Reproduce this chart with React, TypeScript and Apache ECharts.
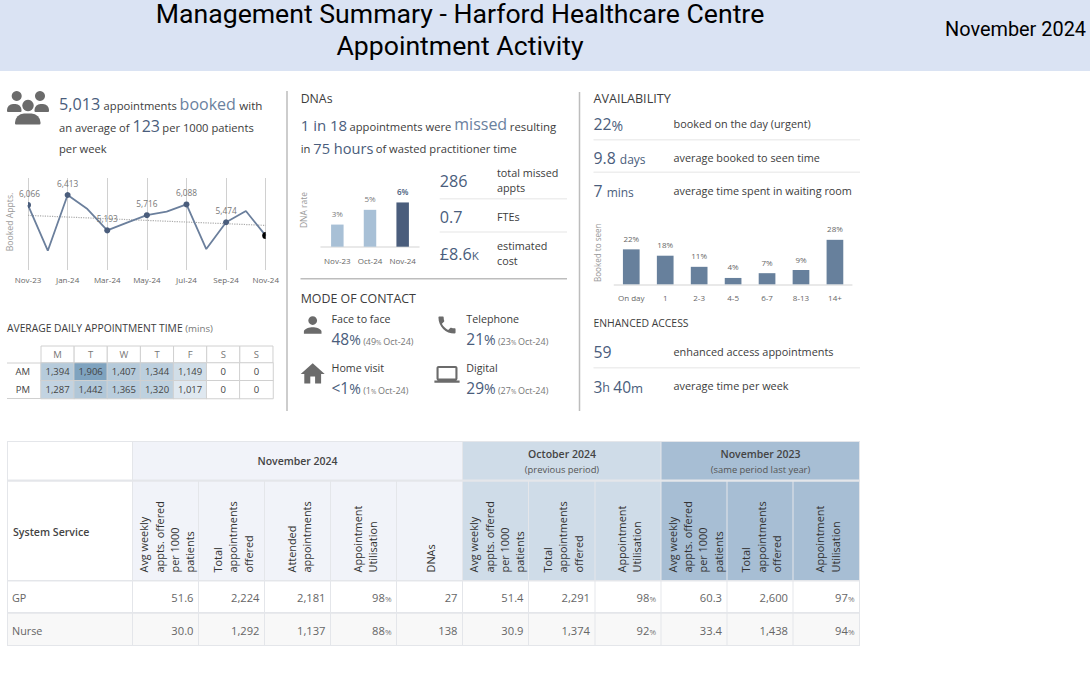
import React, { useEffect, useRef } from "react";
import * as echarts from "echarts";

const months = ["Nov-23","Dec-23","Jan-24","Feb-24","Mar-24","Apr-24","May-24","Jun-24","Jul-24","Aug-24","Sep-24","Oct-24","Nov-24"];
const bookedAppts = [6066,4491,6413,5929,5193,5460,5716,5843,6088,4549,5474,5860,5013];
const bookedTrend = [5710,null,null,null,null,null,null,null,null,null,null,null,5365];
const dnaMonths = ["Nov-23","Oct-24","Nov-24"];
const dnaRates = [3,5,6];
const seenBuckets = ["On day","1","2-3","4-5","6-7","8-13","14+"];
const seenShares = [22,18,11,4,7,9,28];
const heatDays = ["M","T","W","T ","F","S","S "];
const heatSessions = ["AM","PM"];
const amMinutes = [1394,1906,1407,1344,1149,0,0];
const pmMinutes = [1287,1442,1365,1320,1017,0,0];
const tableServices = ["GP","Nurse"];
const tableHeaders = [
  ["Avg weekly","appts. offered","per 1000","patients"],
  ["Total","appointments","offered"],
  ["Attended","appointments"],
  ["Appointment","Utilisation"],
  ["DNAs"],
  ["Avg weekly","appts. offered","per 1000","patients"],
  ["Total","appointments","offered"],
  ["Appointment","Utilisation"],
  ["Avg weekly","appts. offered","per 1000","patients"],
  ["Total","appointments","offered"],
  ["Appointment","Utilisation"],
];
const gpRow = ["51.6","2,224","2,181","98%","27","51.4","2,291","98%","60.3","2,600","97%"];
const nurseRow = ["30.0","1,292","1,137","88%","138","30.9","1,374","92%","33.4","1,438","94%"];

const FONT = '"Open Sans", sans-serif';
const ACC = "#4a5d7c";
const ACC2 = "#6a819e";
const TXT = "#3c3c3c";
const GREY = "#777777";

const ICONS: Record<string, string> = {
  icoPerson: "M12 12c2.21 0 4-1.79 4-4s-1.79-4-4-4-4 1.79-4 4 1.79 4 4 4zm0 2c-2.67 0-8 1.34-8 4v2h16v-2c0-2.66-5.33-4-8-4z",
  icoPhone: "M6.62 10.79c1.44 2.83 3.76 5.14 6.59 6.59l2.2-2.2c.27-.27.67-.36 1.02-.24 1.12.37 2.33.57 3.57.57.55 0 1 .45 1 1V20c0 .55-.45 1-1 1-9.39 0-17-7.61-17-17 0-.55.45-1 1-1h3.5c.55 0 1 .45 1 1 0 1.25.2 2.45.57 3.57.11.35.03.74-.25 1.02l-2.2 2.2z",
  icoHouse: "M10 20v-6h4v6h5v-8h3L12 3 2 12h3v8z",
  icoLaptop: "M20 18c1.1 0 1.99-.9 1.99-2L22 6c0-1.1-.9-2-2-2H4c-1.1 0-2 .9-2 2v10c0 1.1.9 2 2 2H0v2h24v-2h-4zM4 6h16v10H4V6z",
};
Object.keys(ICONS).forEach((k) => echarts.graphic.registerShape(k, echarts.graphic.extendPath(ICONS[k], {}) as any));

const measureCtx = document.createElement("canvas").getContext("2d")!;
function textWidth(t: string, size: number, weight: number | string = 400, family = FONT) {
  measureCtx.font = `${weight} ${size}px ${family}`;
  return measureCtx.measureText(t).width;
}

type Opt = { weight?: number; align?: string; family?: string };
function T(text: string, x: number, y: number, size: number, fill = TXT, o: Opt = {}) {
  return {
    type: "text", silent: true,
    style: {
      text, x, y: y - size * 0.35, fontSize: size, fontFamily: o.family || FONT, fontWeight: o.weight || 400,
      fill, align: o.align || "left", verticalAlign: "middle",
    },
  };
}
type Run = [string, number, string?];
function runs(x: number, y: number, parts: Run[]) {
  let cx = x;
  return parts.map(([t, s, c]) => {
    const el = T(t, cx, y, s, c || TXT);
    cx += textWidth(t, s);
    return el;
  });
}
function rotT(text: string, x: number, y: number, size: number, fill = TXT, align = "left") {
  return {
    type: "text", silent: true, x, y, rotation: Math.PI / 2,
    style: { text, x: 0, y: 0, fontSize: size, fontFamily: FONT, fill, align, verticalAlign: "middle" },
  };
}
const rect = (x: number, y: number, w: number, h: number, fill: string, r?: any) => ({
  type: "rect", silent: true, shape: { x, y, width: w, height: h, r: r || 0 }, style: { fill },
});
const hr = (x1: number, x2: number, y: number, color = "#eeeeee", w = 1.5) => ({
  type: "line", silent: true, shape: { x1, y1: y, x2, y2: y }, style: { stroke: color, lineWidth: w },
});
const vr = (x: number, y1: number, y2: number) => ({
  type: "line", silent: true, shape: { x1: x, y1, x2: x, y2 }, style: { stroke: "#bdbdbd", lineWidth: 1.5 },
});
const icon = (name: string, cx: number, cy: number, scale: number, dy = 12) => ({
  type: name, silent: true, x: cx - 12 * scale, y: cy - dy * scale, scaleX: scale, scaleY: scale, style: { fill: "#6b6b6b" },
});

function buildGraphics() {
  const g: any[] = [];
  g.push(rect(0, 0, 1090, 71, "#dae3f3"));
  g.push(T("Management Summary - Harford Healthcare Centre", 460, 23.3, 26.65, "#000", { family: "Roboto", align: "center" }));
  g.push(T("Appointment Activity", 460, 55.3, 26.65, "#000", { family: "Roboto", align: "center" }));
  g.push(T("November 2024", 1086, 36, 19.9, "#000", { family: "Roboto", align: "right" }));

  g.push(vr(287, 91, 411), vr(579.5, 92, 411));

  // people icon
  const pc = "#6b6b6b";
  g.push({ type: "circle", silent: true, shape: { cx: 16.7, cy: 96, r: 5 }, style: { fill: pc } });
  g.push({ type: "circle", silent: true, shape: { cx: 40, cy: 96, r: 5 }, style: { fill: pc } });
  g.push({ type: "circle", silent: true, shape: { cx: 28, cy: 105.5, r: 5.7 }, style: { fill: pc } });
  g.push(rect(7, 104, 14.5, 8, pc, [6, 6, 1, 1]), rect(34.5, 104, 14.5, 8, pc, [6, 6, 1, 1]));
  g.push(rect(15, 113.5, 25.5, 11, pc, [9, 9, 1, 1]));

  // left intro
  g.push(...runs(59, 109.3, [["5,013", 16.2, ACC], [" ", 13], ["appointments ", 11.2], ["booked", 16, ACC2], [" ", 13], ["with", 11.6]]));
  g.push(...runs(59, 131.7, [["an average of ", 11.2], ["123", 16, ACC], [" ", 9], ["per 1000 patients", 11.2]]));
  g.push(T("per week", 59, 152.7, 11.2));

  // heat table title + header cells
  g.push(...runs(7, 331.7, [["AVERAGE DAILY APPOINTMENT TIME ", 10.3], ["(mins)", 9.7, GREY]]));
  for (let i = 0; i < 7; i++) {
    g.push({ type: "rect", silent: true, shape: { x: 41 + i * 33.14, y: 346, width: 33.14, height: 17 }, style: { fill: "#fff", stroke: "#d0d0d0", lineWidth: 1 } });
  }
  g.push(hr(7, 41, 398.5, "#d0d0d0", 1), hr(7, 41, 363, "#d0d0d0", 1));

  // DNAs
  g.push(T("DNAs", 300.7, 102.7, 12.3));
  g.push(...runs(300.7, 130, [["1 in 18", 15, ACC], [" ", 9], ["appointments were ", 11.2], ["missed", 16, ACC2], [" ", 10], ["resulting", 11.4]]));
  g.push(...runs(300.7, 152.7, [["in ", 11.2], ["75 hours", 14.6, ACC], [" ", 9], ["of wasted practitioner time", 11.2]]));
  g.push(T("286", 439.7, 186.7, 16.2, ACC));
  g.push(T("total missed", 497, 176, 10.8), T("appts", 497, 191, 10.8));
  g.push(hr(439.7, 567, 198.7));
  g.push(T("0.7", 439.7, 222.7, 16.2, ACC));
  g.push(T("FTEs", 497, 220, 10.8));
  g.push(hr(439.7, 567, 232));
  g.push(...runs(439.7, 260, [["£8.6", 16.2, ACC], ["K", 11.5, ACC]]));
  g.push(T("estimated", 497, 249.3, 10.8), T("cost", 497, 264.3, 10.8));
  g.push(hr(300.5, 567, 278.7, "#bdbdbd", 1.5));

  // Mode of contact
  g.push(T("MODE OF CONTACT", 300.7, 302.7, 12.4));
  g.push(icon("icoPerson", 312.7, 325, 1.1));
  g.push(icon("icoPhone", 447, 325, 0.95));
  g.push(icon("icoHouse", 312.7, 374, 1.2));
  g.push(icon("icoLaptop", 447, 374.3, 1.05));
  const mode = (x: number, y: number, name: string, pct: string, prev: string) => {
    g.push(T(name, x, y, 10.7));
    g.push(...runs(x, y + 21.6, [[pct, 15.5, ACC], ["%", 14, ACC], [" ", 9], ["(" + prev, 9, GREY], ["% ", 6.5, GREY], ["Oct-24)", 9, GREY]]));
  };
  mode(331.5, 322.7, "Face to face", "48", "49");
  mode(466.3, 322.7, "Telephone", "21", "23");
  mode(331.5, 371.7, "Home visit", "<1", "1");
  mode(466.3, 371.7, "Digital", "29", "27");

  // Availability
  g.push(T("AVAILABILITY", 593.5, 103.3, 12.6));
  g.push(...runs(593.5, 130, [["22", 15.8, ACC], ["%", 14, ACC]]));
  g.push(T("booked on the day (urgent)", 673.5, 127.7, 10.85));
  g.push(hr(593.5, 860, 139.7));
  g.push(...runs(593.5, 163.3, [["9.8 ", 15.8, ACC], ["days", 12, ACC]]));
  g.push(T("average booked to seen time", 673.5, 161, 10.85));
  g.push(hr(593.5, 860, 172.3));
  g.push(...runs(593.5, 196.7, [["7 ", 15.8, ACC], ["mins", 12, ACC]]));
  g.push(T("average time spent in waiting room", 673.5, 194.3, 10.85));

  g.push(T("ENHANCED ACCESS", 593.5, 326.7, 10.4));
  g.push(T("59", 593.5, 357.7, 15.8, ACC));
  g.push(T("enhanced access appointments", 673.5, 355.7, 10.9));
  g.push(hr(593.5, 860, 367.7));
  g.push(...runs(593.5, 392.3, [["3", 15.5, ACC], ["h ", 12.5, ACC], ["40", 15.5, ACC], ["m", 13, ACC]]));
  g.push(T("average time per week", 673.5, 389, 10.9));

  // Rotated axis captions
  g.push(rotT("Booked Appts.", 10, 222, 8.7, "#999", "center"));
  g.push(rotT("DNA rate", 303.3, 210, 8.5, "#999", "center"));
  g.push(rotT("Booked to seen", 597, 252.7, 8.1, "#999", "center"));

  // Table
  const edges = [7.5, 132.5, 198.5, 264.5, 330.5, 396.5, 462.5, 528.5, 595, 661, 727, 793, 859.5];
  const cNow = "#f1f3f9", cPrev = "#cfdce8", cYear = "#a7bed4";
  const colFill = (i: number) => (i < 5 ? cNow : i < 8 ? cPrev : cYear);
  g.push(rect(7, 441, 853, 205, "#e4e6ea"));
  const y0 = 442, y1 = 479.5, y2 = 481.8, y3 = 580, y4 = 581.5, y5 = 612, y6 = 613.7, y7 = 645;
  g.push(rect(8, y0, 124, y1 - y0, "#fff"), rect(8, y2, 124, y3 - y2, "#fff"));
  g.push(rect(133, y0, 329, y1 - y0, cNow), rect(463, y0, 197.5, y1 - y0, cPrev), rect(661.5, y0, 197.5, y1 - y0, cYear));
  g.push(rect(8, y4, 124, y5 - y4, "#fff"), rect(8, y6, 124, y7 - y6, "#f8f8f8"));
  g.push(T("November 2024", 297.5, 465, 10.5, "#444", { weight: 600, align: "center" }));
  g.push(T("October 2024", 562, 457.6, 10.5, "#444", { weight: 600, align: "center" }));
  g.push(T("(previous period)", 562, 472.3, 9.4, "#555", { align: "center" }));
  g.push(T("November 2023", 760.5, 457.6, 10.5, "#444", { weight: 600, align: "center" }));
  g.push(T("(same period last year)", 760.5, 472.3, 9.4, "#555", { align: "center" }));
  g.push(T("System Service", 13, 535.5, 10.6, "#444", { weight: 600 }));
  tableServices.forEach((s, r) => g.push(T(s, 12, r === 0 ? 601.4 : 634, 10.8, "#666")));
  tableHeaders.forEach((lines, i) => {
    const L = edges[i + 1] + 0.5, R = edges[i + 2] - 0.5;
    g.push(rect(L, y2, R - L, y3 - y2, colFill(i)));
    g.push(rect(L, y4, R - L, y5 - y4, "#fff"), rect(L, y6, R - L, y7 - y6, "#f8f8f8"));
    const cx = (L + R) / 2 + 1.2;
    const step = 15.3;
    lines.forEach((ln, k) => {
      g.push(rotT(ln, cx + (k - (lines.length - 1) / 2) * step, 572.5, 10.9, "#333"));
    });
    [gpRow, nurseRow].forEach((row, r) => {
      const v = row[i];
      const base = r === 0 ? 601.6 : 634;
      if (v.endsWith("%")) {
        g.push(T("%", R - 4.5, base, 8, "#777", { align: "right" }));
        g.push(T(v.slice(0, -1), R - 4.5 - textWidth("%", 8), base, 11.2, "#666", { align: "right" }));
      } else {
        g.push(T(v, R - 4.5, base, 11.2, "#666", { align: "right" }));
      }
    });
  });
  return g;
}

const axisLabel = { fontSize: 8, fontFamily: FONT, color: "#666" };
const hiddenY = (gridIndex: number, min: number, max: number) => ({
  type: "value", gridIndex, min, max,
  axisLine: { show: false }, axisTick: { show: false }, axisLabel: { show: false }, splitLine: { show: false },
});
const fmt = (n: number) => n.toLocaleString("en-GB");

export default function App() {
  const ref = useRef<HTMLDivElement>(null);
  useEffect(() => {
    const chart = echarts.init(ref.current!, undefined, { renderer: "svg" });
    const heatData: any[] = [];
    [amMinutes, pmMinutes].forEach((row, r) => row.forEach((v, c) => heatData.push([c, r, v])));
    chart.setOption({
      animation: false,
      backgroundColor: "#ffffff",
      graphic: { elements: buildGraphics() },
      grid: [
        { left: 28, top: 178, width: 237.7, height: 92 },
        { left: 321, top: 187.7, width: 98, height: 59 },
        { left: 614.3, top: 228.7, width: 237.6, height: 55.6 },
        { left: 41, top: 363, width: 232, height: 35.5 },
      ],
      xAxis: [
        {
          type: "category", gridIndex: 0, data: months, boundaryGap: false,
          axisLine: { show: false }, axisTick: { show: false },
          axisLabel: { ...axisLabel, interval: 1, margin: 5, hideOverlap: false },
          splitLine: { show: true, interval: 1, lineStyle: { color: "#d0d0d0", width: 1 } },
        },
        {
          type: "category", gridIndex: 1, data: dnaMonths,
          axisLine: { lineStyle: { color: "#e2e2e2", width: 1.5 } }, axisTick: { show: false },
          axisLabel: { ...axisLabel, interval: 0, margin: 10 },
        },
        {
          type: "category", gridIndex: 2, data: seenBuckets,
          axisLine: { lineStyle: { color: "#e2e2e2", width: 1.5 } }, axisTick: { show: false },
          axisLabel: { ...axisLabel, interval: 0, margin: 9 },
        },
        {
          type: "category", gridIndex: 3, data: heatDays, position: "top",
          axisLine: { show: false }, axisTick: { show: false },
          axisLabel: { fontSize: 9.5, fontFamily: FONT, color: "#777", margin: 4, interval: 0, formatter: (v: string) => v.trim() },
        },
      ],
      yAxis: [
        hiddenY(0, 3826, 7000),
        hiddenY(1, 0, 8),
        hiddenY(2, 0, 35),
        {
          type: "category", gridIndex: 3, data: heatSessions, inverse: true,
          axisLine: { show: false }, axisTick: { show: false },
          axisLabel: { fontSize: 9.5, fontFamily: FONT, color: "#444", margin: 11 },
        },
      ],
      visualMap: {
        show: false, type: "continuous", seriesIndex: 4, dimension: 2, min: 0, max: 1906,
        inRange: { color: ["#ffffff", "#e6edf3", "#7fa3bf"] },
      },
      series: [
        {
          type: "line", xAxisIndex: 0, yAxisIndex: 0, data: bookedTrend, connectNulls: true, symbol: "none",
          lineStyle: { color: "#aaaaaa", width: 1.2, type: "dotted" }, z: 2,
        },
        {
          type: "line", xAxisIndex: 0, yAxisIndex: 0, showAllSymbol: true, symbolSize: 6,
          lineStyle: { color: "#6b7f9c", width: 1.8 }, itemStyle: { color: ACC }, z: 3,
          label: { show: true, position: "top", distance: 5, fontSize: 8.3, fontFamily: FONT, color: "#777", formatter: (p: any) => fmt(p.value) },
          data: bookedAppts.map((v, i) => {
            const even = i % 2 === 0;
            const last = i === bookedAppts.length - 1;
            const first = i === 0;
            return {
              value: v,
              symbol: !even ? "none" : first ? "path://M0 0A5 5 0 0 1 0 10Z" : last ? "path://M5 0A5 5 0 0 0 5 10Z" : "circle",
              symbolSize: first ? [3, 6] : last ? [3.5, 7] : 6,
              symbolOffset: first ? [1.5, 0] : last ? [-1.75, 0] : [0, 0],
              itemStyle: { color: last ? "#000" : ACC },
              label: { show: even && !last },
            };
          }),
        },
        {
          type: "bar", xAxisIndex: 1, yAxisIndex: 1, barWidth: 12.5,
          label: { show: true, position: "top", distance: 7, fontSize: 8, fontFamily: FONT, color: "#777", formatter: (p: any) => p.value + "%" },
          data: dnaRates.map((v, i) => ({
            value: v,
            itemStyle: { color: i === dnaRates.length - 1 ? ACC : "#a8c0d6" },
            label: i === dnaRates.length - 1 ? { color: ACC, fontWeight: 600 } : undefined,
          })),
        },
        {
          type: "bar", xAxisIndex: 2, yAxisIndex: 2, barWidth: 16.7, data: seenShares, itemStyle: { color: "#67809c" },
          label: { show: true, position: "top", distance: 7, fontSize: 8, fontFamily: FONT, color: "#666", formatter: (p: any) => p.value + "%" },
        },
        {
          type: "heatmap", xAxisIndex: 3, yAxisIndex: 3, data: heatData,
          itemStyle: { borderColor: "#d0d0d0", borderWidth: 1 },
          label: { show: true, fontSize: 9.5, fontFamily: FONT, color: "#444", formatter: (p: any) => fmt(p.value[2]) },
        },
      ],
    });
    return () => chart.dispose();
  }, []);
  return <div ref={ref} style={{ position: "absolute", left: 0, top: 0, width: 1090, height: 683 }} />;
}
